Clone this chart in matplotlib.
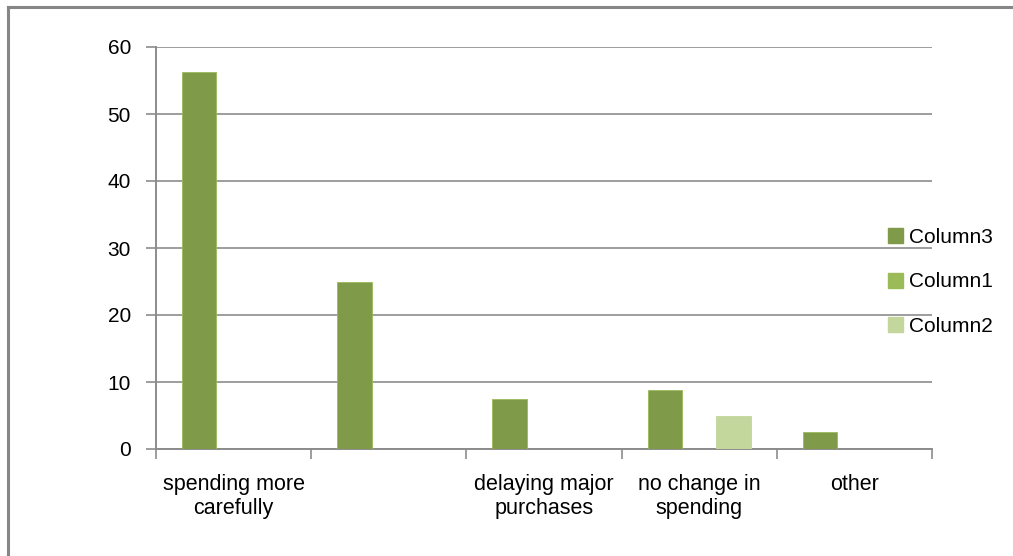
import matplotlib
matplotlib.use("Agg")
import matplotlib.pyplot as plt
import numpy as np
from matplotlib.lines import Line2D

categories = ["spending more\ncarefully", "", "delaying major\npurchases", "no change in\nspending", "other"]
column3 = [56.25, 25.0, 7.5, 8.75, 2.5]
column1 = [0, 0, 0, 0, 0]
column2 = [0, 0, 0, 5.0, 0]
series_names = ["Column3", "Column1", "Column2"]
colors = ["#7F9A48", "#9BBB59", "#C3D69B"]

plt.rcParams['font.family'] = ['Liberation Sans', 'DejaVu Sans']

fig = plt.figure(figsize=(10.13, 5.56), dpi=100)
ax = fig.add_axes([156/1013, 1-449/556, 776/1013, 402/556])

n = len(categories)
x = np.arange(n)
w = 0.222
grid_c = "#8C8C8C"
for i, (vals, name, c) in enumerate(zip([column3, column1, column2], series_names, colors)):
    ax.bar(x + (i - 1) * w + 0.5, vals, width=w, color=c, edgecolor=colors[1] if i == 0 else c,
           linewidth=0.6, label=name, zorder=3)

ax.set_xlim(0, n)
ax.set_ylim(0, 60)
ax.set_yticks(range(0, 61, 10))
ax.yaxis.grid(True, color=grid_c, linewidth=1.2, zorder=0)
ax.set_axisbelow(True)

ax.set_xticks(np.arange(n + 1))
ax.set_xticklabels([])
ax.set_xticks(x + 0.5, minor=True)
ax.set_xticklabels(categories, minor=True, fontsize=15.5, linespacing=1.2)
ax.tick_params(axis='x', which='minor', length=0, pad=18)
ax.tick_params(axis='x', which='major', length=7, width=1.2, color=grid_c, direction='out')
ax.tick_params(axis='y', length=7, width=1.2, color=grid_c, direction='out', labelsize=15, pad=11)

for s in ['top', 'right']:
    ax.spines[s].set_visible(False)
for s in ['left', 'bottom']:
    ax.spines[s].set_color(grid_c)
    ax.spines[s].set_linewidth(1.4)

handles = [plt.Rectangle((0, 0), 1, 1, color=c) for c in colors]
leg = fig.legend(handles, series_names, loc='upper left', bbox_to_anchor=(888/1013, 1-228/556),
                 frameon=False, fontsize=15, handlelength=0.72, handleheight=0.72,
                 handletextpad=0.3, labelspacing=1.22, borderaxespad=0, borderpad=0)

# outer chart border (top and left visible)
fig.add_artist(Line2D([8/1013, 1], [1-7/556, 1-7/556], color="#868686", linewidth=2.2))
fig.add_artist(Line2D([8/1013, 8/1013], [0, 1-7/556], color="#868686", linewidth=2.2))

fig.savefig("out.png", dpi=100)
